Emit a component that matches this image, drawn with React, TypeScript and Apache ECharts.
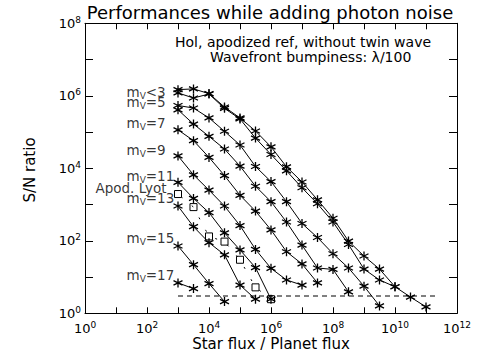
import React, { useEffect, useRef } from 'react';
import * as echarts from 'echarts';

// Star flux / planet flux sampling (half-decade steps)
const fluxRatio = [
  1e3, 3162, 1e4, 31623, 1e5, 316228, 1e6, 3162278, 1e7, 31622777, 1e8,
  316227766, 1e9, 3162277660, 1e10, 31622776602, 1e11,
];

// S/N ratio of each curve
const snA = [1.48e6, 1.55e6, 1.15e6, 4.9e5, 2.45e5, 1.07e5, 3.9e4, 1.1e4, 4.2e3, 1.35e3, 420, 98, 38, 16.6, 5.4, 2.8, 1.5];
const snB = [1.2e6, 8.7e5, 1.12e6, 4.5e5, 2.3e5, 6.8e4, 2.4e4, 8.5e3, 2.9e3, 1.05e3, 330, 79, 16.6, 8.3, 5.4];
const snC = [5.4e5, 4.6e5, 2.45e5, 1.05e5, 4.4e4, 1.12e4, 4.3e3, 1.2e3, 300, 123, 44, 17.8, 5.6, 1.6];
const snD = [4.1e5, 1.66e5, 7.6e4, 3.4e4, 1.15e4, 3.2e3, 1.2e3, 330, 76, 17.8, 16.2, 3.9];
const snE = [1.15e5, 5.8e4, 2.0e4, 6.3e3, 1.8e3, 660, 200, 50, 23, 6.9];
const snF = [2.2e4, 6.6e3, 2.5e3, 910, 263, 58, 17.4, 8.3, 6.0];
const snG = [4.1e3, 1.48e3, 600, 166, 56, 18.2, 2.45];
const snH = [910, 245, 89, 41, 6.0, 2.45];
const snI = [72, 22, 6.6, 2.1];
const snJ = [6.9, 4.8];
const snLyot = [1.95e3, 850, 132, 95, 30, 5.2, 2.45];

const curves = [snA, snB, snC, snD, snE, snF, snG, snH, snI, snJ];

// Detection threshold (dashed line)
const thresholdFlux = [1e3, 2e11];
const thresholdSN = 3;

// Magnitude labels
const magLabels = ['<3', '=5', '=7', '=9', '=11', '=13', '=15', '=17'];
const magLabelSN = [1.29e6, 6.9e5, 1.8e5, 3.3e4, 6.2e3, 1.48e3, 117, 11.5];
const magLabelFlux = 21;
const lyotLabel = 'Apod. Lyot';
const lyotLabelFlux = 2.1;
const lyotLabelSN = 2800;

const titleText = 'Performances while adding photon noise';
const noteLines = ['Hol, apodized ref, without twin wave', 'Wavefront bumpiness: \u03bb/100'];
const xName = 'Star flux / Planet flux';
const yName = 'S/N ratio';

const FONT = '"DejaVu Sans", sans-serif';
const ASTERISK = 'path://M5,0L5,10M0.67,2.5L9.33,7.5M0.67,7.5L9.33,2.5';

const expLabel = (v: number) => {
  const e = Math.round(Math.log10(v));
  if (e % 2 !== 0) return '';
  return '{b|10}{s|' + e + '}';
};

const tickRich = {
  b: { fontSize: 13, fontFamily: FONT, color: '#000', lineHeight: 16 },
  s: { fontSize: 9, fontFamily: FONT, color: '#000', verticalAlign: 'top', lineHeight: 9 },
};

export default function App() {
  const ref = useRef<HTMLDivElement>(null);
  useEffect(() => {
    if (!ref.current) return;
    const chart = echarts.init(ref.current, null, { renderer: 'svg' });

    const curveSeries = curves.map((sn, k) => ({
      name: 'curve' + k,
      type: 'line',
      xAxisIndex: 0,
      yAxisIndex: 0,
      data: sn.map((v, i) => [fluxRatio[i], v]),
      symbol: ASTERISK,
      symbolSize: 9,
      showSymbol: true,
      showAllSymbol: true,
      lineStyle: { color: '#000', width: 1 },
      itemStyle: { color: 'transparent', borderColor: '#000', borderWidth: 1.3 },
      z: 3,
    }));

    const xAxisBase = {
      type: 'log', logBase: 10, min: 1, max: 1e12, interval: 1, splitNumber: 12,
      axisLine: { lineStyle: { color: '#000', width: 1 } },
      splitLine: { show: false },
      minorTick: { show: false },
    };
    const yAxisBase = {
      type: 'log', logBase: 10, min: 1, max: 1e8, interval: 1, splitNumber: 8,
      axisLine: { show: true, lineStyle: { color: '#000', width: 1 } },
      splitLine: { show: false },
      minorTick: { show: false },
    };

    const option: any = {
      animation: false,
      backgroundColor: '#fff',
      title: {
        text: titleText,
        left: 270,
        top: 3,
        padding: 0,
        textAlign: 'center',
        textStyle: { fontFamily: FONT, fontSize: 18, fontWeight: 'normal', color: '#000' },
      },
      grid: { left: 85, right: 24, top: 23.3, bottom: 46.7, containLabel: false, outerBoundsMode: 'none' },
      xAxis: [
        {
          ...xAxisBase,
          axisTick: { inside: true, length: 6, lineStyle: { color: '#000' } },
          axisLabel: { formatter: expLabel, rich: tickRich, margin: 7, interval: 0, hideOverlap: false, showMinLabel: true, showMaxLabel: true },
        },
        {
          ...xAxisBase,
          position: 'top',
          axisTick: { inside: true, length: 6, lineStyle: { color: '#000' } },
          axisLabel: { show: false },
        },
      ],
      yAxis: [
        {
          ...yAxisBase,
          axisTick: { show: true, inside: true, length: 8, lineStyle: { color: '#000' } },
          axisLabel: { formatter: expLabel, rich: tickRich, margin: 4, showMinLabel: true, showMaxLabel: true },
        },
        {
          ...yAxisBase,
          position: 'right',
          axisTick: { show: true, inside: true, length: 8, lineStyle: { color: '#000' } },
          axisLabel: { show: false },
        },
      ],
      graphic: [
        {
          type: 'text', x: 175, y: 41.7,
          style: { text: noteLines[0], font: '14px ' + FONT, fill: '#000', textAlign: 'left', textVerticalAlign: 'middle' },
        },
        {
          type: 'text', x: 210, y: 56.7,
          style: { text: noteLines[1], font: '14px ' + FONT, fill: '#000', textAlign: 'left', textVerticalAlign: 'middle' },
        },
        {
          type: 'text', x: 271, y: 343.5,
          style: { text: xName, font: '15px ' + FONT, fill: '#000', textAlign: 'center', textVerticalAlign: 'middle' },
        },
        {
          type: 'text', x: 30, y: 170, rotation: Math.PI / 2,
          style: { text: yName, font: '15px ' + FONT, fill: '#000', textAlign: 'center', textVerticalAlign: 'middle' },
        },
      ],
      series: [
        ...curveSeries,
        {
          name: 'Apod. Lyot',
          type: 'line',
          data: snLyot.map((v, i) => [fluxRatio[i], v]),
          symbol: 'rect',
          symbolSize: 7,
          showAllSymbol: true,
          lineStyle: { color: '#000', width: 1, type: [2, 12], dashOffset: 10 },
          itemStyle: { color: 'transparent', borderColor: '#000', borderWidth: 1 },
          z: 4,
        },
        {
          name: 'threshold',
          type: 'line',
          data: thresholdFlux.map((f) => [f, thresholdSN]),
          symbol: 'none',
          lineStyle: { color: '#000', width: 1, type: [5, 4] },
          z: 2,
        },
        {
          name: 'labels',
          type: 'scatter',
          data: [
            ...magLabels.map((t, i) => ({ value: [magLabelFlux, magLabelSN[i]], t, kind: 'm' })),
            { value: [lyotLabelFlux, lyotLabelSN], t: lyotLabel, kind: 'l' },
          ],
          symbolSize: 1,
          itemStyle: { color: 'transparent' },
          silent: true,
          label: {
            show: true,
            position: 'right',
            distance: 0,
            color: '#000',
            formatter: (p: any) =>
              p.data.kind === 'm' ? '{m|m}{v|V}{m|' + p.data.t + '}' : '{m|' + p.data.t + '}',
            rich: {
              m: { fontSize: 13.5, fontFamily: FONT, color: '#000', lineHeight: 17 },
              v: { fontSize: 9, fontFamily: FONT, color: '#000', lineHeight: 9, verticalAlign: 'bottom' },
            },
          },
          z: 5,
        },
      ],
    };

    chart.setOption(option);
    return () => chart.dispose();
  }, []);

  return (
    <div
      ref={ref}
      style={{ position: 'fixed', left: 0, top: 0, width: 481, height: 360, background: '#fff' }}
    />
  );
}
